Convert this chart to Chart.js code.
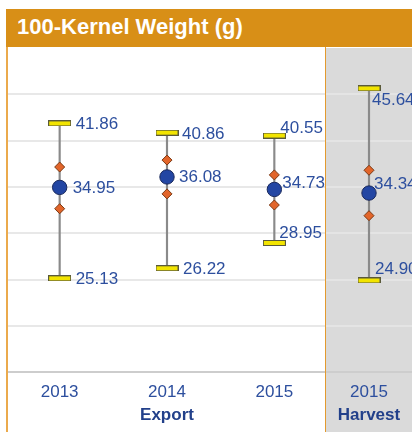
<!DOCTYPE html>
<html>
<head>
<meta charset="utf-8">
<script src="https://cdn.jsdelivr.net/npm/chart.js@4.4.1/dist/chart.umd.min.js"></script>
<style>
  html, body { margin:0; padding:0; background:#fff; }
  #wrap { position:relative; width:412px; height:432px; overflow:hidden; background:#fff; font-family:"Liberation Sans", Arial, sans-serif; }
  #hdr { position:absolute; left:6px; top:9px; width:406px; height:38px; background:#D88F17; color:#fff; font-weight:bold; font-size:22px; line-height:36px; box-sizing:border-box; padding-left:11px; white-space:nowrap; }
  #c1 { position:absolute; left:6px; top:48px; width:322px; height:384px; }
  #c2 { position:absolute; left:326px; top:48px; width:86px; height:384px; background:#DADADA; }
  #lb { position:absolute; left:6px; top:47px; width:1.5px; height:385px; background:#EBAA4C; }
  #sep { position:absolute; left:325px; top:47px; width:1px; height:385px; background:#E39A2E; }
</style>
</head>
<body>
<div id="wrap">
  <div id="hdr">100-Kernel Weight (g)</div>
  <div id="c1"><canvas id="chart1"></canvas></div>
  <div id="c2"><canvas id="chart2"></canvas></div>
  <div id="lb"></div>
  <div id="sep"></div>
</div>
<script>
// ---- data ----
const exportCategories = ['2013', '2014', '2015'];
const exportMax   = [41.86, 40.86, 40.55];
const exportUpper = [37.15, 37.90, 36.30];
const exportMean  = [34.95, 36.08, 34.73];
const exportLower = [32.65, 34.25, 33.05];
const exportMin   = [25.13, 26.22, 28.95];

const harvestCategories = ['2015'];
const harvestMax   = [45.64];
const harvestUpper = [36.80];
const harvestMean  = [34.34];
const harvestLower = [31.90];
const harvestMin   = [24.90];

const yTicks = [15, 20, 25, 30, 35, 40, 45, 50];

// ---- label placement (style, px offsets from mark) ----
const exportLabelOffsets = {
  max:  [[16, 1], [15, 2], [6, -7]],
  mean: [[13, 1], [12, 0], [8, -6]],
  min:  [[16, 1], [16, 1], [5, -10]]
};
const harvestLabelOffsets = {
  max:  [[3, 12]],
  mean: [[5, -9]],
  min:  [[6, -11]]
};

const FONT = '"Liberation Sans", Arial, sans-serif';
const LABEL_COLOR = '#2D4F9E';

function capImage() {
  const c = document.createElement('canvas');
  c.width = 23; c.height = 6;
  const g = c.getContext('2d');
  g.fillStyle = '#F2E400';
  g.fillRect(0.5, 0.5, 22, 5);
  g.strokeStyle = '#5a5a3a';
  g.lineWidth = 1;
  g.strokeRect(0.5, 0.5, 22, 5);
  return c;
}
const CAP = capImage();

const labelPlugin = {
  id: 'valueLabels',
  afterDatasetsDraw(chart, args, opts) {
    const ctx = chart.ctx;
    ctx.save();
    ctx.font = '17px ' + FONT;
    ctx.fillStyle = LABEL_COLOR;
    ctx.textBaseline = 'middle';
    ctx.textAlign = 'left';
    chart.data.datasets.forEach((ds, di) => {
      if (!ds.labelKey) return;
      const meta = chart.getDatasetMeta(di);
      const offs = opts.offsets[ds.labelKey];
      meta.data.forEach((el, i) => {
        const v = ds.data[i];
        const o = offs[i] || [10, 0];
        ctx.fillText(v.toFixed(2), el.x + o[0], el.y + o[1]);
      });
    });
    ctx.restore();
  }
};

function makeChart(id, cats, mx, up, mn, lo, mi, groupTitle, offsets, gridColor) {
  return new Chart(document.getElementById(id), {
    type: 'bar',
    data: {
      labels: cats,
      datasets: [
        { type: 'bar', data: cats.map((c, i) => [mi[i], mx[i]]), backgroundColor: '#8a8a8a', barThickness: 1.5, order: 6 },
        { type: 'line', data: mx, showLine: false, pointStyle: CAP, labelKey: 'max', order: 5 },
        { type: 'line', data: mi, showLine: false, pointStyle: CAP, labelKey: 'min', order: 4 },
        { type: 'line', data: up, showLine: false, pointStyle: 'rectRot', pointRadius: 5, backgroundColor: '#E2652A', borderColor: '#7a3812', borderWidth: 1, order: 3 },
        { type: 'line', data: lo, showLine: false, pointStyle: 'rectRot', pointRadius: 5, backgroundColor: '#E2652A', borderColor: '#7a3812', borderWidth: 1, order: 2 },
        { type: 'line', data: mn, showLine: false, pointStyle: 'circle', pointRadius: 7.2, backgroundColor: '#2346A3', borderColor: '#1b2a5c', borderWidth: 1, labelKey: 'mean', order: 1 }
      ]
    },
    options: {
      responsive: true,
      maintainAspectRatio: false,
      animation: false,
      events: [],
      layout: { padding: 0, autoPadding: false },
      plugins: { legend: { display: false }, tooltip: { enabled: false }, valueLabels: { offsets } },
      scales: {
        x: {
          offset: true,
          grid: { display: false, drawTicks: false },
          border: { display: true, color: '#cdcdcd', width: 2 },
          ticks: { color: '#2D4F9E', font: { family: FONT, size: 17 }, padding: 10 },
          title: { display: true, text: groupTitle, color: '#22408A', font: { family: FONT, size: 17, weight: 'bold' }, padding: { top: -7, bottom: 6 } }
        },
        y: {
          min: 15, max: 50,
          afterBuildTicks: (s) => { s.ticks = yTicks.map(v => ({ value: v })); },
          ticks: { display: false },
          border: { display: false },
          grid: { drawTicks: false, lineWidth: 2, color: (c) => (c.tick && (c.tick.value === 15 || c.tick.value === 50)) ? 'rgba(0,0,0,0)' : gridColor }
        }
      }
    },
    plugins: [labelPlugin]
  });
}

makeChart('chart1', exportCategories, exportMax, exportUpper, exportMean, exportLower, exportMin, 'Export', exportLabelOffsets, '#e8e8e8');
makeChart('chart2', harvestCategories, harvestMax, harvestUpper, harvestMean, harvestLower, harvestMin, 'Harvest', harvestLabelOffsets, '#e4e4e4');
</script>
</body>
</html>
